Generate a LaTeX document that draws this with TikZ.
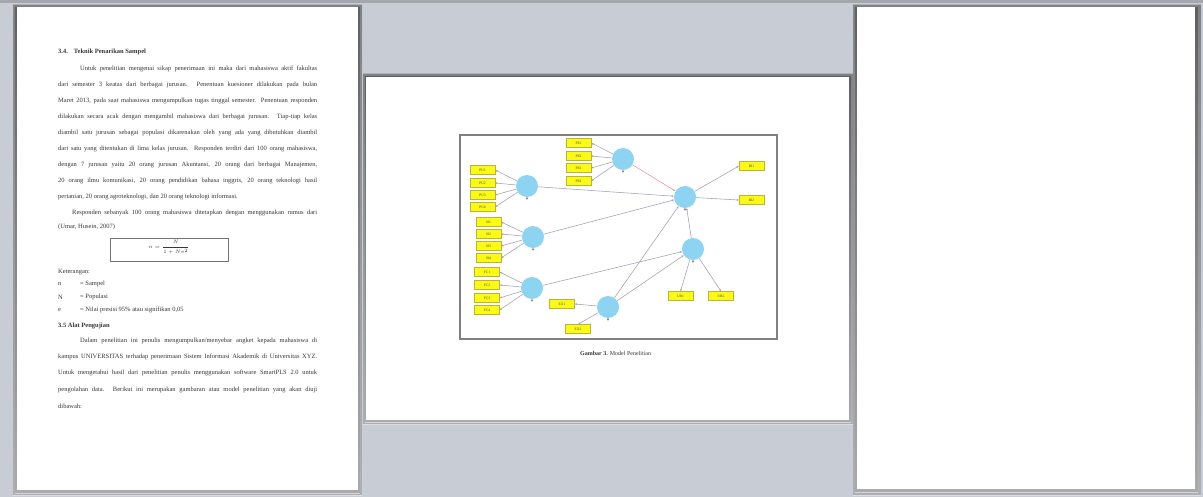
\documentclass[tikz,border=0pt]{standalone}
\usepackage{fontspec}
\setmainfont{Liberation Serif}
\usetikzlibrary{arrows.meta}
\definecolor{bgc}{RGB}{200,204,212}
\definecolor{topc}{RGB}{165,167,172}
\definecolor{shade}{RGB}{160,163,170}
\definecolor{lvc}{RGB}{140,212,242}
\definecolor{indc}{RGB}{250,250,20}
\definecolor{edgec}{RGB}{160,160,180}
\definecolor{txtc}{RGB}{55,55,55}
\tikzset{
  page/.style={fill=white, draw=none},
  txt/.style={anchor=west, inner sep=0pt, text=txtc, font=\fontsize{6.5}{7}\selectfont},
  btxt/.style={txt, font=\fontsize{6.5}{7}\selectfont\bfseries},
  lv/.style={circle, fill=lvc, draw=none, minimum size=22pt, inner sep=0pt},
  ind/.style={rectangle, fill=indc, draw=yellow!70!black, line width=0.3pt, minimum width=25pt, minimum height=9pt, inner sep=0pt, text=black!70, font=\fontsize{3.6}{3.6}\selectfont},
  edge/.style={draw=edgec, line width=0.55pt, -{Stealth[length=2.5pt,width=2pt]}},
  pedge/.style={edge, draw={rgb,255:red,225;green,150;blue,165}},
}
\newcommand{\jl}[2]{\hbox to #1pt{#2}}
\begin{document}
\begin{tikzpicture}[x=1pt,y=-1pt]
\useasboundingbox (0,0) rectangle (1203,497);
% background
\fill[bgc] (0,0) rectangle (1203,497);
\fill[topc] (0,0) rectangle (1203,3);
% page shadows
\fill[shade, opacity=0.35] (13,5) rectangle (362,495);
\fill[shade, opacity=0.5] (15,7) rectangle (360,493);
\fill[shade, opacity=0.35] (363,74) rectangle (853,424);
\fill[shade, opacity=0.5] (365,76) rectangle (851,422);
\fill[shade, opacity=0.35] (853,5) rectangle (1201,495);
\fill[shade, opacity=0.5] (855,7) rectangle (1198,492);
% pages
\path[page] (17,7) rectangle (358,490);
\path[page] (366,77) rectangle (849,420);
\path[page] (857,7) rectangle (1195,489);

% ---------- left page text ----------
\node[btxt] (h1) at (58,52) {3.4.\hspace{6pt}Teknik Penarikan Sampel};
\node[txt] (p1) at (80,69) {\jl{237}{Untuk penelitian mengenai sikap penerimaan ini maka dari mahasiswa aktif fakultas}};
\node[txt] (p2) at (58,85) {\jl{259}{dari semester 3 keatas dari berbagai jurusan. Penentuan kuesioner dilakukan pada bulan}};
\node[txt] (p3) at (58,101) {\jl{259}{Maret 2013, pada saat mahasiswa mengumpulkan tugas tinggal semester. Penentuan responden}};
\node[txt] (p4) at (58,117) {\jl{259}{dilakukan secara acak dengan mengambil mahasiswa dari berbagai jurusan. Tiap-tiap kelas}};
\node[txt] (p5) at (58,133) {\jl{259}{diambil satu jurusan sebagai populasi dikarenakan oleh yang ada yang dibutuhkan diambil}};
\node[txt] (p6) at (58,149) {\jl{259}{dari satu yang ditentukan di lima kelas jurusan. Responden terdiri dari 100 orang mahasiswa,}};
\node[txt] (p7) at (58,165) {\jl{259}{dengan 7 jurusan yaitu 20 orang jurusan Akuntansi, 20 orang dari berbagai Manajemen,}};
\node[txt] (p8) at (58,181) {\jl{259}{20 orang ilmu komunikasi, 20 orang pendidikan bahasa inggris, 20 orang teknologi hasil}};
\node[txt] (p9) at (58,197) {pertanian, 20 orang agroteknologi, dan 20 orang teknologi informasi.};
\node[txt] (q1) at (72,213) {\jl{245}{Responden sebanyak 100 orang mahasiswa ditetapkan dengan menggunakan rumus dari}};
\node[txt] (q2) at (58,227) {(Umar, Husein, 2007)};
\node[draw=black!55, line width=0.8pt, minimum width=118pt, minimum height=23pt, inner sep=0pt] (fbox) at (169,249.5) {};
\node[inner sep=0pt, text=txtc, font=\fontsize{3.6}{3.6}\selectfont] (form) at ([yshift=2pt]fbox.center) {$n=\displaystyle\frac{N}{1+N e^{2}}$};
\node[txt] (ket) at (58,272) {Keterangan:};
\node[txt] (k1a) at (58,284) {n};
\node[txt] (k1b) at (80,284) {= Sampel};
\node[txt] (k2a) at (58,297) {N};
\node[txt] (k2b) at (80,297) {= Populasi};
\node[txt] (k3a) at (58,310) {e};
\node[txt] (k3b) at (80,310) {= Nilai presisi 95\% atau signifikan 0,05};
\node[btxt] (h2) at (58,326) {3.5 Alat Pengujian};
\node[txt] (r1) at (80,341) {\jl{237}{Dalam penelitian ini penulis mengumpulkan/menyebar angket kepada mahasiswa di}};
\node[txt] (r2) at (58,357) {\jl{259}{kampus UNIVERSITAS terhadap penerimaan Sistem Informasi Akademik di Universitas XYZ.}};
\node[txt] (r3) at (58,373) {\jl{259}{Untuk mengetahui hasil dari penelitian penulis menggunakan software SmartPLS 2.0 untuk}};
\node[txt] (r4) at (58,390) {\jl{259}{pengolahan data. Berikut ini merupakan gambaran atau model penelitian yang akan diuji}};
\node[txt] (r5) at (58,406) {dibawah:};

% ---------- middle page figure ----------
\node[draw=black!50, line width=1.3pt, minimum width=317pt, minimum height=204pt, inner sep=0pt] (frame) at (618.5,237) {};
\node[txt, font=\fontsize{6}{7}\selectfont] (cap) at (580,353) {\textbf{Gambar 3.} Model Penelitian};

% latent variables
\node[lv] (c1) at (623,159) {};
\node[lv] (c2) at (527,186) {};
\node[lv] (c3) at (533,237) {};
\node[lv] (c4) at (532,288) {};
\node[lv] (c5) at (685,197) {};
\node[lv] (c6) at (693,249) {};
\node[lv] (c7) at (608,307) {};
\foreach \c in {c1,c2,c3,c4,c5,c6,c7}{
  \fill[black!45] ([yshift=-1.2pt]\c.south) circle (1.2pt);
}

% indicators
\node[ind] (a1) at (578.5,143) {PE1};
\node[ind] (a2) at (578.5,156) {PE2};
\node[ind] (a3) at (578.5,168) {PE3};
\node[ind] (a4) at (578.5,181) {PE4};
\node[ind] (b1) at (482.5,170) {PU1};
\node[ind] (b2) at (482.5,183) {PU2};
\node[ind] (b3) at (482.5,195) {PU3};
\node[ind] (b4) at (482.5,207) {PU4};
\node[ind] (d1) at (488.5,222) {SI1};
\node[ind] (d2) at (488.5,234) {SI2};
\node[ind] (d3) at (488.5,246) {SI3};
\node[ind] (d4) at (488.5,258) {SI4};
\node[ind] (e1) at (487,272) {FC1};
\node[ind] (e2) at (487,285) {FC2};
\node[ind] (e3) at (487,298) {FC3};
\node[ind] (e4) at (487,310) {FC4};
\node[ind] (o1) at (751.5,166) {BI1};
\node[ind] (o2) at (751.5,200) {BI2};
\node[ind] (u1) at (680.5,296) {UB1};
\node[ind] (u2) at (721,296) {UB2};
\node[ind] (g1) at (562,304) {EX1};
\node[ind] (g2) at (578,329) {EX2};

% measurement arrows
\foreach \i in {a1,a2,a3,a4}{ \draw[edge] (c1) -- (\i.east); }
\foreach \i in {b1,b2,b3,b4}{ \draw[edge] (c2) -- (\i.east); }
\foreach \i in {d1,d2,d3,d4}{ \draw[edge] (c3) -- (\i.east); }
\foreach \i in {e1,e2,e3,e4}{ \draw[edge] (c4) -- (\i.east); }
\draw[edge] (c5) -- (o1.west);
\draw[edge] (c5) -- (o2.west);
\draw[edge] (c6) -- (u1.north);
\draw[edge] (c6) -- (u2.north);
\draw[edge] (c7) -- (g1.east);
\draw[edge] (c7) -- (g2.north);

% structural paths
\draw[pedge] (c1) -- (c5);
\draw[edge] (c2) -- (c5);
\draw[edge] (c3) -- (c5);
\draw[edge] (c4) -- (c6);
\draw[edge] (c6) -- (c5);
\draw[edge] (c7) -- (c6);
\draw[edge] (c7) -- (c5);
\end{tikzpicture}
\end{document}
